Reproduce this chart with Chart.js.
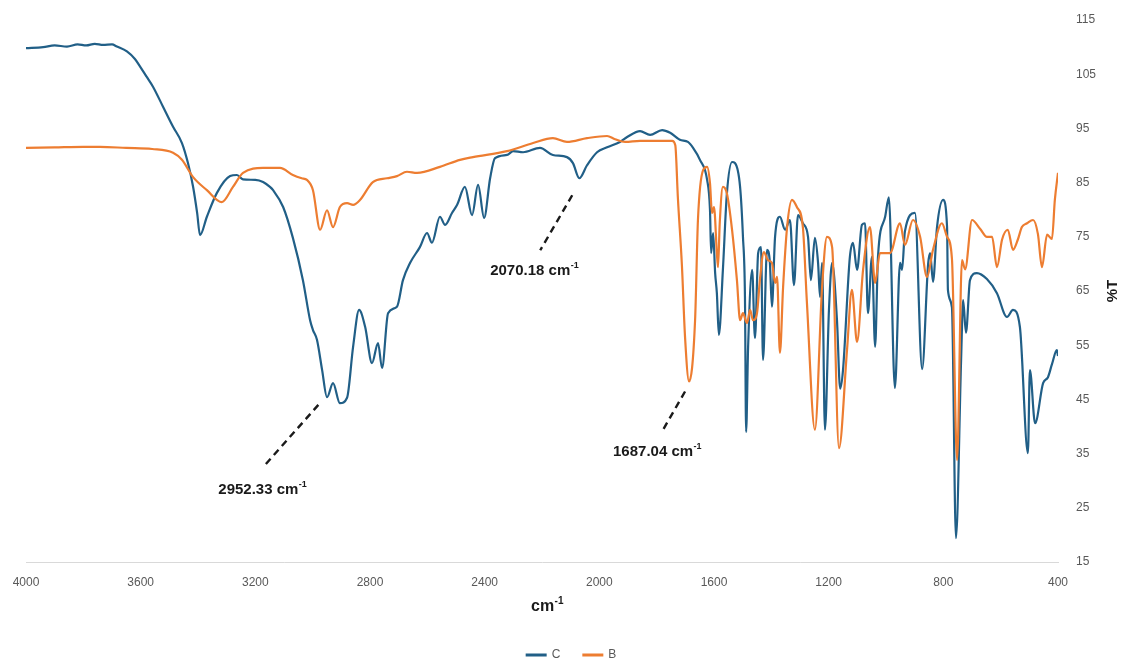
<!DOCTYPE html>
<html>
<head>
<meta charset="utf-8">
<title>FTIR</title>
<script src="https://cdn.jsdelivr.net/npm/chart.js@4"></script>
<style>
  html, body { margin: 0; padding: 0; background: #ffffff; }
  #wrap { position: relative; width: 1122px; height: 661px; }
</style>
</head>
<body>
<div id="wrap"><canvas id="ftir"></canvas></div>
<script>
// Wavenumbers (cm-1) and transmittance (%T) for sample C
const wnC = [4000, 3940, 3900, 3857, 3820, 3790, 3760, 3731, 3700, 3683, 3648, 3620, 3602, 3580, 3557, 3522, 3487, 3456, 3435, 3417, 3403, 3393, 3369, 3334, 3288, 3264, 3243, 3200, 3173, 3149, 3138, 3103, 3069, 3034, 3009, 2999, 2985, 2967, 2950, 2929, 2905, 2880, 2859, 2838, 2817, 2793, 2772, 2758, 2737, 2706, 2685, 2660, 2626, 2601, 2584, 2556, 2538, 2514, 2496, 2469, 2444, 2423, 2402, 2381, 2364, 2322, 2301, 2266, 2207, 2162, 2113, 2092, 2070, 2043, 2008, 1973, 1928, 1903, 1858, 1823, 1781, 1753, 1719, 1691, 1673, 1649, 1624, 1614, 1610, 1603, 1596, 1590, 1583, 1569, 1555, 1537, 1527, 1509, 1499, 1492, 1488, 1481, 1467, 1457, 1446, 1436, 1429, 1415, 1405, 1398, 1387, 1370, 1352, 1335, 1321, 1307, 1290, 1272, 1262, 1248, 1237, 1230, 1223, 1213, 1199, 1188, 1171, 1160, 1150, 1126, 1115, 1101, 1084, 1073, 1063, 1049, 1038, 1028, 1003, 990, 969, 951, 944, 934, 899, 874, 853, 846, 836, 822, 801, 787, 784, 770, 756, 738, 731, 721, 707, 683, 648, 613, 578, 557, 533, 505, 498, 480, 452, 435, 421, 404, 400];
const tC = [109.8, 110.0, 110.3, 110.1, 110.5, 110.3, 110.6, 110.4, 110.5, 110.1, 109.2, 107.8, 106.4, 104.6, 102.7, 99.0, 95.3, 92.3, 88.6, 84.2, 79.4, 75.3, 78.7, 83.1, 86.2, 86.4, 85.6, 85.5, 85.1, 84.2, 83.6, 80.5, 74.8, 67.0, 59.6, 57.8, 56.0, 50.4, 45.4, 48.0, 44.3, 45.3, 54.7, 61.5, 58.4, 51.7, 55.4, 50.8, 60.9, 62.1, 67.0, 70.2, 73.1, 75.7, 73.9, 78.7, 77.2, 79.4, 80.9, 84.2, 79.0, 84.6, 78.5, 85.8, 89.5, 90.1, 90.8, 90.6, 91.4, 90.1, 89.7, 88.6, 85.8, 88.2, 90.6, 91.5, 92.5, 93.4, 94.5, 93.8, 94.7, 94.2, 92.9, 92.5, 91.4, 89.2, 85.5, 80.0, 72.0, 75.7, 68.3, 64.6, 56.9, 68.9, 83.0, 88.8, 88.6, 84.2, 75.0, 63.9, 39.0, 54.7, 68.9, 56.3, 72.0, 73.1, 52.3, 72.6, 70.2, 62.1, 75.0, 78.7, 76.3, 78.1, 66.1, 79.0, 77.5, 75.0, 67.0, 74.8, 70.2, 63.9, 70.2, 39.4, 61.5, 70.2, 59.6, 47.0, 50.4, 71.3, 73.9, 68.9, 77.2, 77.5, 60.9, 71.3, 54.7, 71.3, 78.7, 82.3, 47.1, 70.2, 68.9, 76.0, 79.4, 50.6, 70.0, 72.0, 66.7, 76.8, 81.8, 76.8, 65.2, 62.0, 19.4, 52.3, 63.3, 57.3, 67.0, 68.3, 67.2, 64.6, 60.2, 61.5, 58.4, 35.1, 50.4, 40.6, 48.0, 49.1, 51.5, 54.1, 53.0];

// Wavenumbers (cm-1) and transmittance (%T) for sample B
const wnB = [4000, 3900, 3800, 3742, 3650, 3560, 3487, 3456, 3417, 3369, 3317, 3278, 3243, 3173, 3114, 3069, 3038, 3020, 2999, 2974, 2950, 2929, 2905, 2880, 2859, 2835, 2790, 2741, 2706, 2671, 2636, 2556, 2486, 2441, 2322, 2231, 2162, 2113, 2043, 1973, 1945, 1910, 1858, 1746, 1735, 1726, 1712, 1701, 1687, 1666, 1656, 1638, 1624, 1614, 1607, 1600, 1590, 1586, 1580, 1569, 1555, 1537, 1520, 1509, 1499, 1485, 1474, 1464, 1450, 1440, 1426, 1412, 1398, 1387, 1380, 1370, 1359, 1345, 1328, 1311, 1290, 1276, 1248, 1223, 1206, 1188, 1164, 1136, 1119, 1101, 1080, 1056, 1038, 1021, 986, 951, 934, 906, 881, 857, 836, 805, 787, 770, 752, 735, 724, 700, 672, 648, 630, 613, 595, 575, 557, 540, 526, 508, 487, 470, 456, 438, 421, 411, 400];
const tB = [91.4, 91.5, 91.6, 91.6, 91.4, 91.2, 90.5, 89.2, 86.0, 83.6, 81.4, 84.2, 86.8, 87.7, 87.7, 86.4, 85.8, 85.5, 83.6, 76.3, 79.9, 76.8, 80.5, 81.2, 80.9, 81.8, 85.1, 85.8, 86.2, 87.0, 86.8, 87.9, 89.2, 89.7, 90.8, 92.3, 93.2, 92.5, 93.2, 93.6, 93.0, 92.5, 92.7, 92.7, 91.9, 82.2, 69.8, 56.5, 48.3, 59.6, 78.1, 87.3, 87.9, 84.9, 79.4, 80.5, 72.0, 69.4, 77.5, 84.2, 83.0, 76.3, 67.0, 59.6, 60.9, 59.1, 61.5, 59.6, 60.9, 67.0, 72.2, 70.7, 70.2, 66.5, 67.6, 53.6, 65.7, 76.8, 81.8, 80.5, 76.8, 63.0, 39.4, 65.7, 75.0, 73.1, 36.0, 54.1, 65.2, 55.6, 68.9, 76.8, 66.5, 72.0, 72.0, 77.5, 73.5, 78.1, 75.0, 67.6, 72.6, 77.5, 75.0, 71.0, 33.8, 70.7, 69.0, 78.1, 76.5, 75.0, 75.0, 69.4, 74.5, 76.3, 72.6, 74.5, 76.8, 77.5, 78.1, 75.5, 69.4, 75.4, 74.6, 81.8, 86.8];

// Tick values of both axes
const xTicks = [4000, 3600, 3200, 2800, 2400, 2000, 1600, 1200, 800, 400];
const yTicks = [15, 25, 35, 45, 55, 65, 75, 85, 95, 105, 115];

// Labelled peaks: position (cm-1) and %T at the peak
const peakWn = [2952.33, 2070.18, 1687.04];
const peakT = [46.2, 85.8, 48.3];

const seriesNames = ['C', 'B'];
const colorC = '#215f87';
const colorB = '#ed7d31';

const FONT = '"Liberation Sans", Arial, sans-serif';

const toPoints = (xs, ys) => xs.map((v, i) => ({ x: v, y: ys[i] }));

// Leader lines and label placement, offsets in pixels from each peak
const peakStyle = [
  { start: [-8, 12], end: [-63, 74], label: [-64, 97] },
  { start: [-7, 17], end: [-39, 72], label: [-45, 93] },
  { start: [-4, 10], end: [-27, 50], label: [-32, 70] }
];

function drawSupText(ctx, base, sup, cx, cy, size, color) {
  const bigFont = 'bold ' + size + 'px ' + FONT;
  const smallFont = 'bold ' + Math.round(size * 0.62) + 'px ' + FONT;
  ctx.font = bigFont;
  const w1 = ctx.measureText(base).width;
  ctx.font = smallFont;
  const w2 = ctx.measureText(sup).width;
  const left = cx - (w1 + w2) / 2;
  ctx.fillStyle = color;
  ctx.textAlign = 'left';
  ctx.textBaseline = 'middle';
  ctx.font = bigFont;
  ctx.fillText(base, left, cy);
  ctx.font = smallFont;
  ctx.fillText(sup, left + w1 + 0.5, cy - size * 0.36);
}

const decorations = {
  id: 'decorations',
  beforeDraw(chart) {
    const ctx = chart.ctx;
    ctx.save();
    ctx.fillStyle = '#ffffff';
    ctx.fillRect(0, 0, chart.width, chart.height);
    ctx.restore();
  },
  afterDraw(chart) {
    const ctx = chart.ctx;
    const xs = chart.scales.x;
    const ys = chart.scales.y;
    const area = chart.chartArea;
    ctx.save();

    // peak leader lines and labels
    peakWn.forEach((wn, i) => {
      const px = xs.getPixelForValue(wn);
      const py = ys.getPixelForValue(peakT[i]);
      const st = peakStyle[i];
      ctx.beginPath();
      ctx.setLineDash([7, 5]);
      ctx.lineWidth = 2.4;
      ctx.strokeStyle = '#1a1a1a';
      ctx.moveTo(px + st.start[0], py + st.start[1]);
      ctx.lineTo(px + st.end[0], py + st.end[1]);
      ctx.stroke();
      ctx.setLineDash([]);
      drawSupText(ctx, wn.toFixed(2) + ' cm', '-1', px + st.label[0], py + st.label[1], 15, '#1a1a1a');
    });

    // x axis title
    drawSupText(ctx, 'cm', '-1', (area.left + area.right) / 2 + 5, 607, 16, '#1a1a1a');

    // y axis title on the right, rotated
    ctx.save();
    ctx.translate(1113, (area.top + area.bottom) / 2);
    ctx.rotate(-Math.PI / 2);
    ctx.font = 'bold 15px ' + FONT;
    ctx.fillStyle = '#1a1a1a';
    ctx.textAlign = 'center';
    ctx.textBaseline = 'middle';
    ctx.fillText('%T', 0, 0);
    ctx.restore();

    // legend
    const items = chart.data.datasets.map(d => ({ text: d.label, color: d.borderColor }));
    ctx.font = '12px ' + FONT;
    ctx.textBaseline = 'middle';
    ctx.textAlign = 'left';
    const lineW = 21, gap = 5, itemGap = 22;
    let total = 0;
    items.forEach(it => { total += lineW + gap + ctx.measureText(it.text).width; });
    total += itemGap * (items.length - 1);
    let x = 571 - total / 2;
    const ly = 655;
    items.forEach(it => {
      ctx.beginPath();
      ctx.strokeStyle = it.color;
      ctx.lineWidth = 3;
      ctx.moveTo(x, ly);
      ctx.lineTo(x + lineW, ly);
      ctx.stroke();
      x += lineW + gap;
      ctx.fillStyle = '#595959';
      ctx.fillText(it.text, x, ly);
      x += ctx.measureText(it.text).width + itemGap;
    });
    ctx.restore();
  }
};

new Chart(document.getElementById('ftir'), {
  type: 'line',
  data: {
    datasets: [
      {
        label: seriesNames[0],
        data: toPoints(wnC, tC),
        borderColor: colorC,
        backgroundColor: colorC,
        borderWidth: 2.2,
        pointRadius: 0,
        cubicInterpolationMode: 'monotone',
        order: 2
      },
      {
        label: seriesNames[1],
        data: toPoints(wnB, tB),
        borderColor: colorB,
        backgroundColor: colorB,
        borderWidth: 2.2,
        pointRadius: 0,
        cubicInterpolationMode: 'monotone',
        order: 1
      }
    ]
  },
  options: {
    responsive: true,
    maintainAspectRatio: false,
    animation: false,
    layout: { padding: { left: 26, top: 20, right: 0, bottom: 0 } },
    plugins: {
      legend: { display: false },
      tooltip: { enabled: false }
    },
    scales: {
      x: {
        type: 'linear',
        reverse: true,
        min: 400,
        max: 4000,
        afterBuildTicks: s => { s.ticks = xTicks.map(v => ({ value: v })); },
        afterFit: s => { s.height = 99; },
        grid: { display: false, drawTicks: true, tickLength: 11, tickColor: 'rgba(0,0,0,0)' },
        border: { display: true, color: '#d9d9d9', width: 1 },
        ticks: { color: '#595959', padding: 2, maxRotation: 0, font: { family: FONT, size: 12 }, callback: v => String(v) }
      },
      y: {
        position: 'right',
        min: 15,
        max: 115,
        afterBuildTicks: s => { s.ticks = yTicks.map(v => ({ value: v })); },
        afterFit: s => { s.width = 64; },
        grid: { display: false, drawTicks: true, tickLength: 16, tickColor: 'rgba(0,0,0,0)' },
        border: { display: false },
        ticks: { color: '#595959', padding: 2, font: { family: FONT, size: 12 }, callback: v => String(v) }
      }
    }
  },
  plugins: [decorations]
});
</script>
</body>
</html>
